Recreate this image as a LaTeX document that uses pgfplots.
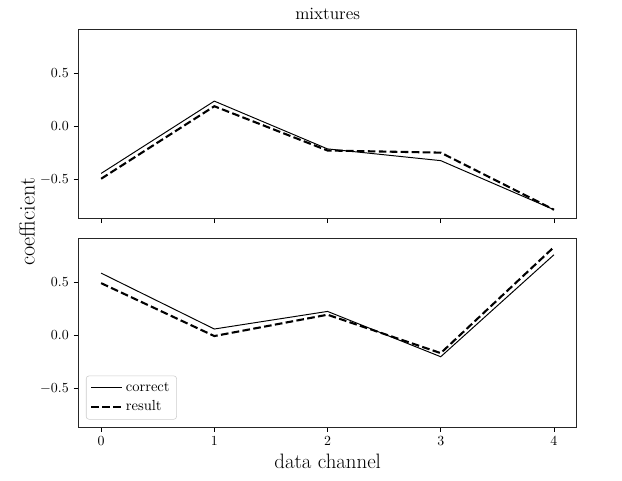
\documentclass[border=0pt]{standalone}
\usepackage{pgfplots}
\pgfplotsset{compat=1.18}
\pgfplotstableread{
x correct result
0 -0.44 -0.49
1 0.238 0.19
2 -0.21 -0.225
3 -0.32 -0.245
4 -0.78 -0.78
}\toptable
\pgfplotstableread{
x correct result
0 0.584 0.49
1 0.06 -0.006
2 0.225 0.194
3 -0.20 -0.166
4 0.756 0.828
}\bottable
\begin{document}
\begin{tikzpicture}
\useasboundingbox (0,0) rectangle (447.8pt,-345.6pt);
\pgfplotsset{
  mystyle/.style={
    scale only axis, width=358.6pt, height=135.9pt,
    anchor=north west,
    xmin=-0.2, xmax=4.2, ymin=-0.86, ymax=0.91,
    xtick={0,1,2,3,4}, ytick={-0.5,0,0.5},
    tick align=outside, xtick pos=bottom, ytick pos=left,
    major tick length=3.5pt,
    tick style={black, line width=0.6pt},
    axis line style={line width=0.7pt, black!85},
    ticklabel style={font=\fontsize{10}{12}\selectfont},
    yticklabel style={/pgf/number format/fixed, /pgf/number format/fixed zerofill, /pgf/number format/precision=1},
    correct/.style={black, line width=0.7pt},
    result/.style={black, line width=1.5pt, dash pattern=on 5.5pt off 2.4pt},
  }
}
\begin{axis}[mystyle, at={(56.5pt,-21.2pt)}, xticklabels={}]
\addplot[correct] table[x=x, y=correct] {\toptable};
\addplot[result] table[x=x, y=result] {\toptable};
\end{axis}
\begin{axis}[mystyle, at={(56.5pt,-171.6pt)},
  legend style={at={(0.015,0.04)}, anchor=south west, draw=black!20, rounded corners=2pt,
    font=\fontsize{10.5}{12.5}\selectfont, inner xsep=3pt, inner ysep=2.5pt, row sep=1.5pt},
  legend cell align=left,
  legend image code/.code={\draw[#1] (0pt,0pt) -- (22pt,0pt);}]
\addplot[correct] table[x=x, y=correct] {\bottable};
\addlegendentry{correct}
\addplot[result] table[x=x, y=result] {\bottable};
\addlegendentry{result}
\end{axis}
\node at (235.9pt,-10.1pt) {\fontsize{12.5}{14}\selectfont mixtures};
\node at (235.9pt,-331.9pt) {\fontsize{15}{18}\selectfont data channel};
\node[rotate=90] at (19.4pt,-159.8pt) {\fontsize{16}{18}\selectfont coefficient};
\end{tikzpicture}
\end{document}
